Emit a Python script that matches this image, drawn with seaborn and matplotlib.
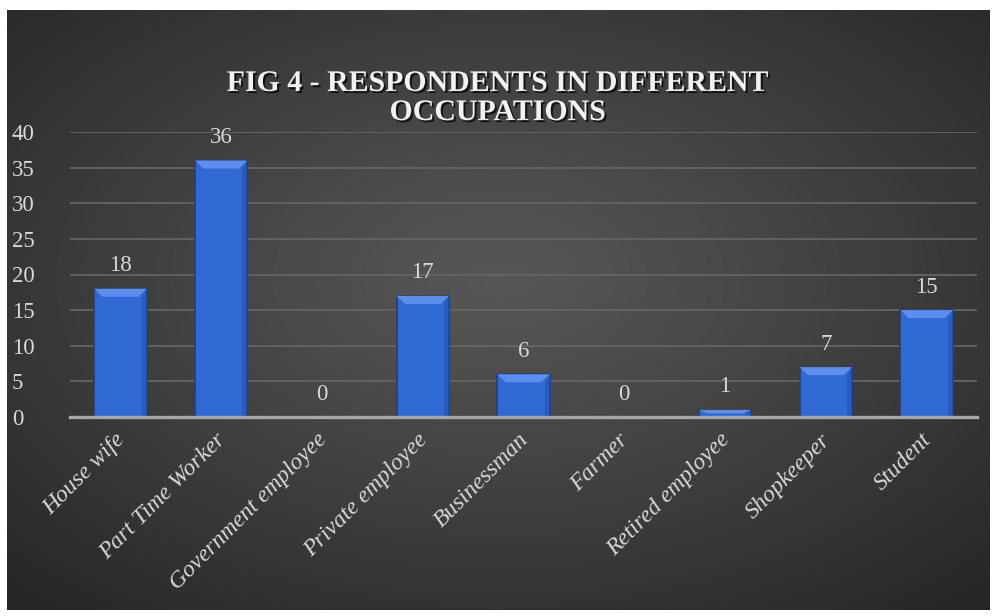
import numpy as np
import pandas as pd
import seaborn as sns
import matplotlib
matplotlib.use('Agg')
from matplotlib import pyplot as plt
import matplotlib.patheffects as pe
import matplotlib.transforms as mtrans
from matplotlib.patches import Polygon

occupations = ['House wife', 'Part Time Worker', 'Government employee', 'Private employee',
               'Businessman', 'Farmer', 'Retired employee', 'Shopkeeper', 'Student']
respondents = [18, 36, 0, 17, 6, 0, 1, 7, 15]
y_ticks = [0, 5, 10, 15, 20, 25, 30, 35, 40]
title = 'FIG 4 - RESPONDENTS IN DIFFERENT\nOCCUPATIONS'

df = pd.DataFrame({'occupation': occupations, 'count': respondents})

sns.set_theme(style='dark')
plt.rcParams['font.family'] = ['Liberation Serif', 'DejaVu Serif']

W, H = 995, 616
fig = plt.figure(figsize=(W / 100, H / 100), dpi=100)
fig.patch.set_facecolor('white')

# dark radial gradient behind the chart
bg = fig.add_axes([7 / W, 6 / H, 983 / W, 600 / H])
yy, xx = np.mgrid[-1:1:300j, -1:1:500j]
r = np.clip(np.sqrt(xx ** 2 + (yy + 0.1) ** 2) / 1.45, 0, 1)
v = 0.34 - 0.19 * r ** 1.1
bg.imshow(np.dstack([v, v, v]), aspect='auto', interpolation='bilinear')
bg.set_axis_off()

ax = fig.add_axes([70 / W, (H - 417) / H, 907 / W, 285 / H])
ax.patch.set_alpha(0)
sns.barplot(data=df, x='occupation', y='count', ax=ax, color='#3169d3',
            width=0.52, edgecolor='#1c3f85', linewidth=1.2, saturation=1)

ax.set_ylim(0, 40)
ax.set_yticks(y_ticks)
ax.set_xlim(-0.5, len(occupations) - 0.5)
ax.grid(axis='y', color='#646464', linewidth=1.3)
ax.grid(axis='x', visible=False)
ax.set_axisbelow(True)
for s in ['top', 'right', 'left']:
    ax.spines[s].set_visible(False)
ax.spines['bottom'].set_color('#a6a6a6')
ax.spines['bottom'].set_linewidth(2.4)
ax.set_xlabel('')
ax.set_ylabel('')
ax.tick_params(axis='y', colors='#d9d9d9', labelsize=16.5, length=0, pad=42)
ax.tick_params(axis='x', colors='#d9d9d9', length=0, pad=9)
for lab in ax.get_yticklabels():
    lab.set_horizontalalignment('left')
ax.set_xticks(range(len(occupations)))
ax.set_xticklabels(occupations, rotation=45, ha='right', rotation_mode='anchor',
                   fontsize=17, fontstyle='italic', color='#d9d9d9')
shift = mtrans.ScaledTranslation(-6 / 100, 0, fig.dpi_scale_trans)
for lab in ax.get_xticklabels():
    lab.set_transform(lab.get_transform() + shift)

# bevel look: lighter top facet on each bar, taken from the bar geometry
dy = 8 * 40 / 285   # about 8 px in data units
for p in ax.patches:
    x0, w, h = p.get_x(), p.get_width(), p.get_height()
    if h <= 0:
        continue
    d = min(dy, h * 0.5)
    dx = w * 0.16
    ax.add_patch(Polygon([(x0, h), (x0 + w, h), (x0 + w - dx, h - d), (x0 + dx, h - d)],
                         closed=True, facecolor='#5b8ef0', edgecolor='none', zorder=p.get_zorder() + 0.1))
    ax.add_patch(Polygon([(x0 + w, h), (x0 + w, 0), (x0 + w - dx * 0.6, 0), (x0 + w - dx * 0.6, h - d)],
                         closed=True, facecolor='#2453ad', edgecolor='none', alpha=0.6, zorder=p.get_zorder() + 0.1))

for c in ax.containers:
    ax.bar_label(c, labels=[str(v) for v in respondents], padding=9,
                 fontsize=16.5, color='#d9d9d9')

fig.text(498 / W, 1 - 98 / H, title, ha='center', va='center', fontsize=21.5,
         fontweight='bold', color='#f2f2f2', linespacing=1.1,
         path_effects=[pe.withSimplePatchShadow(offset=(1.5, -1.5), shadow_rgbFace='black', alpha=0.7)])

fig.savefig('out.png', dpi=100, facecolor='white')
